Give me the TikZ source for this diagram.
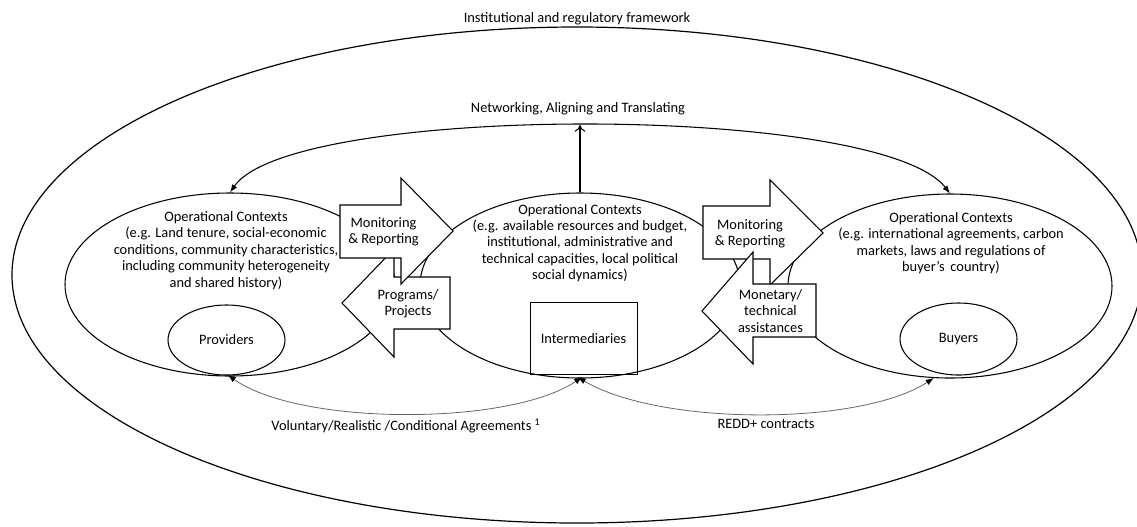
\documentclass[tikz,border=0pt]{standalone}
\usepackage{fontspec}
\setmainfont{Carlito}
\usetikzlibrary{shapes.geometric,arrows.meta}
\begin{document}
\begin{tikzpicture}[x=0.75pt,y=-0.75pt,
  base/.style={line width=0.8pt, draw=black},
  ellipsebox/.style={base, ellipse, inner sep=0pt},
  txt/.style={font=\fontsize{10.8}{12.3}\selectfont, align=center, inner sep=0pt},
  blockarrow/.style={base, fill=white, line join=miter},
  netarrow/.style={line width=0.8pt, {Latex[length=6pt,width=4.5pt]}-{Latex[length=6pt,width=4.5pt]}},
  uparrow/.style={line width=0.8pt, -{To[length=5pt,width=8pt]}},
  agreearrow/.style={line width=0.6pt, draw=black!60, {Latex[length=6pt,width=4.5pt,black]}-{Latex[length=6pt,width=4.5pt,black]}}
]
\path[use as bounding box] (0,0) rectangle (1137,526);
\clip (0,0) rectangle (1137,526);

% outer framework
\node[ellipsebox, line width=0.9pt, minimum width=1130*0.75pt, minimum height=496*0.75pt] (outer) at (577,275) {};
\node[txt] (title) at (577,19) {Institutional and regulatory framework};
\node[txt] (netlabel) at (578,109) {Networking, Aligning and Translating};

% operational contexts
\node[ellipsebox, minimum width=330*0.75pt, minimum height=183*0.75pt] (lctx) at (230,284.5) {};
\node[ellipsebox, minimum width=320*0.75pt, minimum height=185*0.75pt] (mctx) at (580,285.5) {};
\node[ellipsebox, minimum width=324*0.75pt, minimum height=184*0.75pt] (rctx) at (950,286) {};

\node[ellipsebox, minimum width=117*0.75pt, minimum height=70*0.75pt, txt] (prov) at (226.5,340) {Providers};
\node[ellipsebox, minimum width=117*0.75pt, minimum height=72*0.75pt, txt] (buy) at (958.5,339) {Buyers};
\node[draw=black, line width=0.55pt, rectangle, minimum width=107*0.75pt, minimum height=72*0.75pt, txt] (inter) at (583.5,338.5) {Intermediaries};

\node[txt] (ltext) at (226,250.5) {Operational Contexts\\(e.g. Land tenure, social-economic\\conditions, community characteristics,\\including community heterogeneity\\and shared history)};
\node[txt] (mtext) at (580,243) {Operational Contexts\\(e.g. available resources and budget,\\institutional, administrative and\\technical capacities, local political\\social dynamics)};
\node[txt] (rtext) at (951,243) {Operational Contexts\\(e.g. international agreements, carbon\\markets, laws and regulations of\\buyer's\, country)};

% block arrows, left pair
\draw[blockarrow] (450,277) -- (394,277) -- (394,249) -- (342,303) -- (394,357) -- (394,329) -- (450,329) -- cycle;
\draw[blockarrow] (340,205) -- (401,205) -- (401,178) -- (453,231) -- (401,284) -- (401,258) -- (340,258) -- cycle;
% block arrows, right pair
\draw[blockarrow] (703,206) -- (770,206) -- (770,180) -- (823,233) -- (770,285) -- (770,259) -- (703,259) -- cycle;
\draw[blockarrow] (816,284) -- (753,284) -- (753,252) -- (702,311) -- (753,364) -- (753,337) -- (816,337) -- cycle;

\node[txt] (mrl) at (383.5,231.5) {Monitoring\\\& Reporting};
\node[txt] (prog) at (408,304) {Programs/\\Projects};
\node[txt] (mrr) at (750,233.5) {Monitoring\\\& Reporting};
\node[txt] (mon) at (770.5,311) {Monetary/\\technical\\assistances};

% networking connectors
\coordinate (nettop) at (580,125);
\draw[netarrow] (lctx.north) .. controls (292,103) and (880,103) .. (rctx.north);
\draw[uparrow] (mctx.north) -- (nettop);

% agreements
\draw[agreearrow, shorten <=-2pt, shorten >=-2pt] (lctx.south) .. controls (300,426) and (510,426) .. (mctx.south);
\draw[agreearrow, shorten <=-2pt] (mctx.south) .. controls (660,426) and (860,426) .. (rctx.260);
\node[txt] (agree) at (406,426) {Voluntary/Realistic /Conditional Agreements \textsuperscript{1}};
\node[txt] (redd) at (766,424) {REDD+ contracts};
\end{tikzpicture}
\end{document}
